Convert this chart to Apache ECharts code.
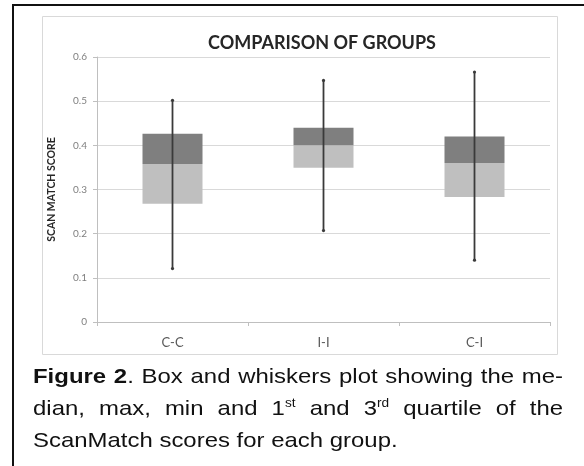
<!DOCTYPE html>
<html>
<head>
<meta charset="utf-8">
<script src="https://cdn.jsdelivr.net/npm/echarts@6/dist/echarts.min.js"></script>
<style>
  body { margin: 0; background: #fff; }
  #wrap { position: relative; width: 584px; height: 466px; overflow: hidden; background: #fff; }
  #frame { position: absolute; left: 12px; top: 4px; width: 700px; height: 600px;
           border-left: 2px solid #111; border-top: 2px solid #111; }
  #main { position: absolute; left: 0; top: 0; width: 584px; height: 466px; }
  #caption { position: absolute; left: 33px; top: 360px; width: 465px;
             font-family: "Liberation Sans", Arial, sans-serif; font-size: 21px; line-height: 32px;
             color: #111; transform: scaleX(1.14); transform-origin: 0 0; }
  #caption .j { text-align: justify; text-align-last: justify; }
  #caption sup { font-size: 12px; line-height: 0; vertical-align: 8px; }
</style>
</head>
<body>
<div id="wrap">
  <div id="frame"></div>
  <div id="main"></div>
  <div id="caption">
    <div class="j"><b>Figure 2</b>. Box and whiskers plot showing the me-</div>
    <div class="j">dian, max, min and 1<sup>st</sup> and 3<sup>rd</sup> quartile of the</div>
    <div>ScanMatch scores for each group.</div>
  </div>
</div>
<script>
var myChart = echarts.init(document.getElementById("main"));

// 数据
var categories = ['C-C', 'I-I', 'C-I'];
var minVals = [0.121, 0.207, 0.140];
var q1Vals = [0.268, 0.349, 0.283];
var medianVals = [0.358, 0.400, 0.360];
var q3Vals = [0.426, 0.440, 0.420];
var maxVals = [0.502, 0.547, 0.566];

// 堆叠柱：透明底 + 浅色(q1~中位数) + 深色(中位数~q3)
var lowerPart = [];
var upperPart = [];
for (var i = 0; i < categories.length; i++) {
    lowerPart.push(+(medianVals[i] - q1Vals[i]).toFixed(4));
    upperPart.push(+(q3Vals[i] - medianVals[i]).toFixed(4));
}
var whiskerData = [];
for (var i = 0; i < categories.length; i++) {
    whiskerData.push([i, minVals[i], maxVals[i]]);
}

var option = {
    animation: false,
    graphic: [{
        type: 'rect',
        shape: { x: 42.5, y: 16.5, width: 515, height: 338 },
        style: { fill: 'none', stroke: '#d9d9d9', lineWidth: 1 },
        silent: true
    }],
    title: {
        text: 'COMPARISON OF GROUPS',
        left: 317,
        top: 29,
        textAlign: 'center',
        textStyle: {
            fontFamily: 'Lato',
            fontWeight: 'bold',
            fontSize: 18,
            color: '#262626'
        }
    },
    grid: { left: 97, right: 34, top: 57, bottom: 144 },
    xAxis: {
        type: 'category',
        data: categories,
        axisLine: { lineStyle: { color: '#bfbfbf' } },
        axisTick: { show: true, length: 4, lineStyle: { color: '#bfbfbf' } },
        axisLabel: { color: '#595959', fontSize: 13, fontFamily: 'Lato', margin: 14 }
    },
    yAxis: {
        type: 'value',
        min: 0,
        max: 0.6,
        interval: 0.1,
        name: 'SCAN MATCH SCORE',
        nameLocation: 'middle',
        nameRotate: 90,
        nameGap: 40,
        nameTextStyle: { fontFamily: 'Lato', fontWeight: 'bold', fontSize: 10.5, color: '#262626' },
        axisLine: { show: true, lineStyle: { color: '#bfbfbf' } },
        axisTick: { show: true, length: 4, lineStyle: { color: '#bfbfbf' } },
        axisLabel: {
            color: '#7f7f7f', fontSize: 10, fontFamily: 'Lato', margin: 10,
            formatter: function (v) { return v === 0 ? '0' : v.toFixed(1); }
        },
        splitLine: { lineStyle: { color: '#d9d9d9' } }
    },
    series: [{
        type: 'bar',
        stack: 'box',
        data: q1Vals,
        barWidth: 60,
        itemStyle: { color: 'transparent' },
        silent: true
    }, {
        type: 'bar',
        stack: 'box',
        data: lowerPart,
        barWidth: 60,
        itemStyle: { color: '#bfbfbf' }
    }, {
        type: 'bar',
        stack: 'box',
        data: upperPart,
        barWidth: 60,
        itemStyle: { color: '#7f7f7f' }
    }, {
        type: 'custom',
        data: whiskerData,
        z: 10,
        renderItem: function (params, api) {
            var lo = api.coord([api.value(0), api.value(1)]);
            var hi = api.coord([api.value(0), api.value(2)]);
            return {
                type: 'group',
                children: [{
                    type: 'line',
                    shape: { x1: lo[0], y1: lo[1], x2: hi[0], y2: hi[1] },
                    style: { stroke: '#3a3a3a', lineWidth: 1.8 }
                }, {
                    type: 'circle',
                    shape: { cx: lo[0], cy: lo[1], r: 1.6 },
                    style: { fill: '#3a3a3a' }
                }, {
                    type: 'circle',
                    shape: { cx: hi[0], cy: hi[1], r: 1.6 },
                    style: { fill: '#3a3a3a' }
                }]
            };
        }
    }]
};

myChart.setOption(option);
</script>
</body>
</html>
